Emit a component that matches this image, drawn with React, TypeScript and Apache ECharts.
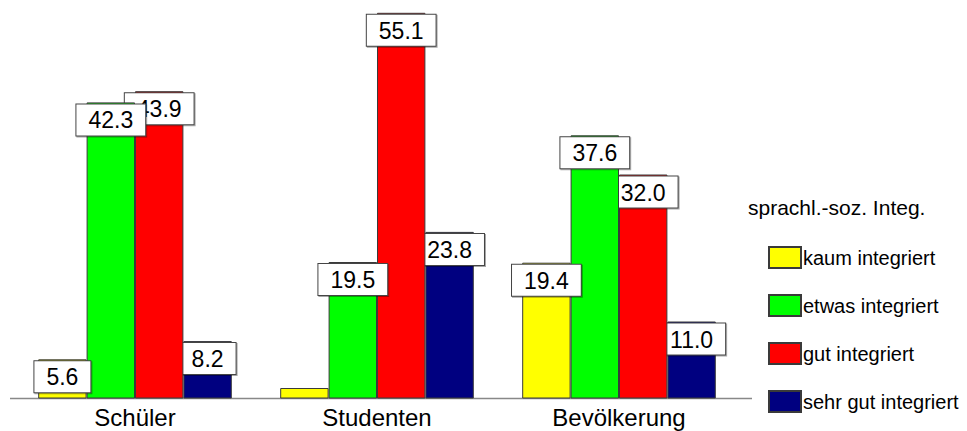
import React, { useEffect, useRef } from "react";
import * as echarts from "echarts";

const categories = ["Schüler", "Studenten", "Bevölkerung"];
const seriesNames = ["kaum integriert", "etwas integriert", "gut integriert", "sehr gut integriert"];
const kaum = [5.6, 1.5, 19.4];
const etwas = [42.3, 19.5, 37.6];
const gut = [43.9, 55.1, 32.0];
const sehrGut = [8.2, 23.8, 11.0];
const hiddenLabels = [[false, true, false], [false, false, false], [false, false, false], [false, false, false]];
const colors = ["#FFFF00", "#00FF00", "#FF0000", "#000080"];
const legendTitle = "sprachl.-soz. Integ.";

const FONT = "'Liberation Sans', Arial, Helvetica, sans-serif";

export default function App() {
  const ref = useRef<HTMLDivElement>(null);
  useEffect(() => {
    if (!ref.current) return;
    document.body.style.margin = "0";
    document.body.style.overflow = "hidden";
    const chart = echarts.init(ref.current, undefined, { renderer: "svg" });
    const values = [kaum, etwas, gut, sehrGut];
    const series = values.map((vals, si) => ({
      name: seriesNames[si],
      type: "bar",
      z: 10 - si,
      barGap: "0%",
      barCategoryGap: "20%",
      itemStyle: { color: colors[si], borderColor: "#3a3a3a", borderWidth: 1 },
      label: {
        show: true,
        position: "insideTop",
        distance: 2,
        formatter: (p: any) => Number(p.value).toFixed(1),
        color: "#000",
        fontSize: 23,
        lineHeight: 24,
        fontFamily: FONT,
        backgroundColor: "#fff",
        borderColor: "#444",
        borderWidth: 1,
        padding: [4, 12, 3, 12],
        shadowColor: "rgba(0,0,0,0.35)",
        shadowOffsetX: 1,
        shadowOffsetY: 1,
        shadowBlur: 0,
      },
      data: vals.map((v, i) => ({ value: v, label: { show: !hiddenLabels[si][i] } })),
    }));
    chart.setOption({
      animation: false,
      grid: { left: 14, right: 227, top: 6.5, bottom: 32.5 },
      xAxis: {
        type: "category",
        data: categories,
        boundaryGap: true,
        axisLine: { show: false },
        axisTick: { show: false },
        axisLabel: { fontSize: 24, color: "#000", fontFamily: FONT, margin: 7 },
      },
      yAxis: { type: "value", min: 0, max: 56, show: false, splitLine: { show: false } },
      legend: {
        orient: "vertical",
        left: 763,
        top: 241,
        icon: "rect",
        itemWidth: 32,
        itemHeight: 21,
        itemGap: 25,
        textStyle: { fontSize: 20, lineHeight: 21, color: "#000", fontFamily: FONT, padding: [0, 0, 0, -3] },
        data: seriesNames,
      },
      graphic: [
        {
          type: "line",
          shape: { x1: 10, y1: 398.5, x2: 752, y2: 398.5 },
          style: { stroke: "#888", lineWidth: 1.5 },
          z: 0,
        },
        {
          type: "text",
          left: 748,
          top: 197,
          style: { text: legendTitle, fontSize: 21, fill: "#000", fontFamily: FONT },
        },
      ],
      series,
    });
    return () => chart.dispose();
  }, []);
  return (
    <div
      ref={ref}
      style={{ position: "absolute", left: 0, top: 0, width: 967, height: 431 }}
    />
  );
}
